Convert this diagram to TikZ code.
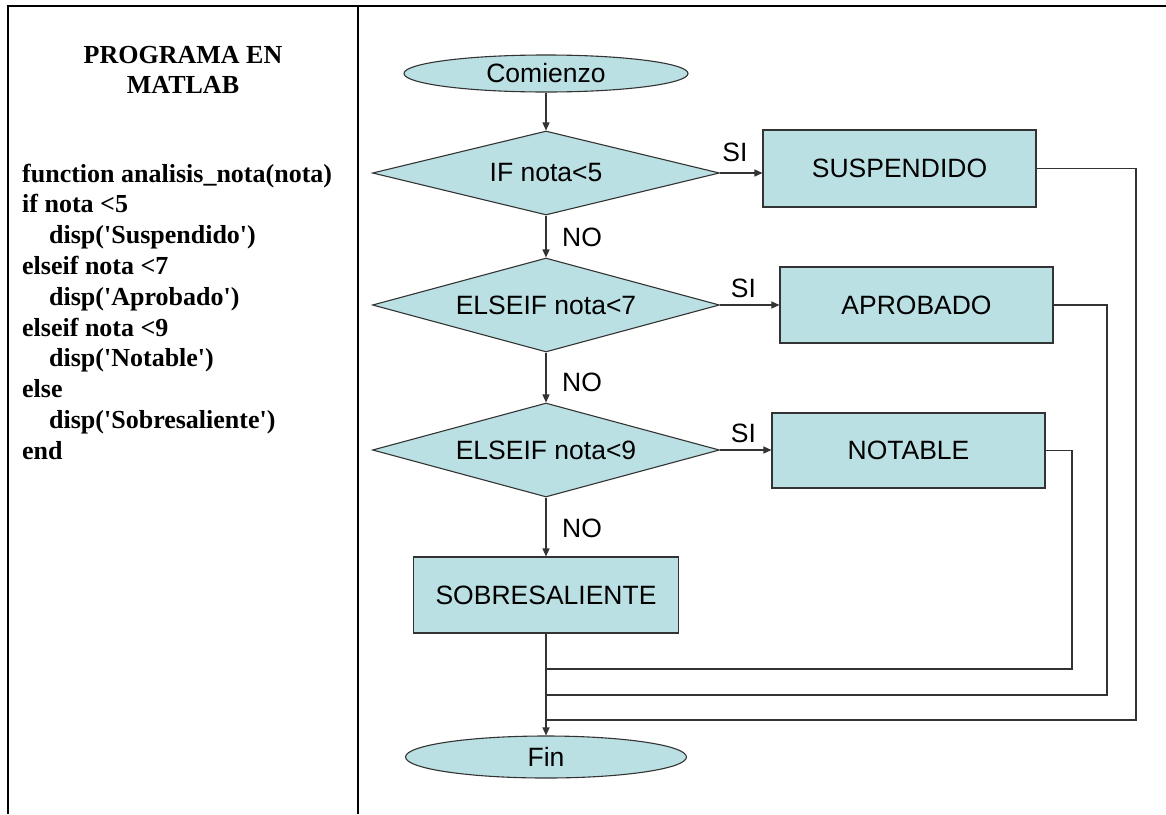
\documentclass[tikz,border=0pt]{standalone}
\usepackage{fontspec}
\newfontfamily\timesfont{Liberation Serif}
\newfontfamily\arialfont{Liberation Sans}
\usetikzlibrary{shapes.geometric,arrows.meta}
\definecolor{boxfill}{HTML}{BBE0E3}
\definecolor{edge}{HTML}{333333}

\begin{document}
\begin{tikzpicture}[x=1pt,y=-1pt,
  chart/.style={font=\arialfont\fontsize{26.5}{30}\selectfont, text=black},
  code/.style={font=\timesfont\bfseries\fontsize{26}{30}\selectfont, inner sep=0pt, anchor=base west},
  shapebase/.style={chart, draw=edge, fill=boxfill, line width=1.1pt, inner sep=0pt},
  terminal/.style={shapebase, ellipse},
  decision/.style={shapebase, diamond, aspect=3.7},
  process/.style={shapebase, rectangle},
  flow/.style={draw=edge, line width=1.3pt, -{Triangle[length=8pt,width=7pt]}},
  joinline/.style={draw=edge, line width=1.3pt},
  rule/.style={line width=2.5pt, black},
  lbl/.style={chart, inner sep=0pt}
]
\useasboundingbox (0,0) rectangle (1166,814);
\fill[white] (0,0) rectangle (1166,814);

% table rules
\draw[rule] (8,814) -- (8,6) -- (1166,6);
\draw[rule] (358,6) -- (358,814);

% left column: program listing
\node[code, anchor=base] (title1) at (183,63) {PROGRAMA EN};
\node[code, anchor=base] (title2) at (183,93) {MATLAB};
\node[code] (c1)  at (22,182)   {function analisis\_nota(nota)};
\node[code] (c2)  at (22,212.8) {if nota <5};
\node[code] (c3)  at (49,243.6) {disp('Suspendido')};
\node[code] (c4)  at (22,274.4) {elseif nota <7};
\node[code] (c5)  at (49,305.2) {disp('Aprobado')};
\node[code] (c6)  at (22,336)   {elseif nota <9};
\node[code] (c7)  at (49,366.8) {disp('Notable')};
\node[code] (c8)  at (22,397.6) {else};
\node[code] (c9)  at (49,428.4) {disp('Sobresaliente')};
\node[code] (c10) at (22,459.2) {end};

% flowchart nodes
\node[terminal, minimum width=284pt, minimum height=37pt] (start) at (546,73.5) {Comienzo};
\node[decision, minimum width=347pt, minimum height=84pt] (d1) at (546,173) {IF nota<5};
\node[decision, minimum width=347pt, minimum height=94pt] (d2) at (546,305) {ELSEIF nota<7};
\node[decision, minimum width=347pt, minimum height=94pt] (d3) at (546,450) {ELSEIF nota<9};
\node[process, minimum width=273pt, minimum height=77pt] (s1) at (899.5,168.5) {SUSPENDIDO};
\node[process, minimum width=273pt, minimum height=76pt] (s2) at (916.5,305) {APROBADO};
\node[process, minimum width=273pt, minimum height=75pt] (s3) at (908.5,450.5) {NOTABLE};
\node[process, minimum width=265pt, minimum height=76pt] (s4) at (546,595) {SOBRESALIENTE};
\node[terminal, minimum width=281pt, minimum height=42pt] (fin) at (546,757) {Fin};

% branch labels
\node[lbl] (si1) at (735,152) {SI};
\node[lbl] (si2) at (743.5,288) {SI};
\node[lbl] (si3) at (743.5,433) {SI};
\node[lbl] (no1) at (582,237) {NO};
\node[lbl] (no2) at (582,382) {NO};
\node[lbl] (no3) at (582,528) {NO};

% main flow
\draw[flow] (start.south) -- (d1.north);
\draw[flow] (d1.south) -- (d2.north);
\draw[flow] (d2.south) -- (d3.north);
\draw[flow] (d3.south) -- (s4.north);
\draw[flow] (s4.south) -- (fin.north);

% SI branches
\draw[flow] (d1.east) -- (d1.east -| s1.west);
\draw[flow] (d2.east) -- (d2.east -| s2.west);
\draw[flow] (d3.east) -- (d3.east -| s3.west);

% return paths into the main line
\coordinate (r1) at (1136,720);
\coordinate (r2) at (1107,695);
\coordinate (r3) at (1072,669);
\draw[joinline] (s1.east) -| (r1) -- (r1 -| s4.south);
\draw[joinline] (s2.east) -| (r2) -- (r2 -| s4.south);
\draw[joinline] (s3.east) -| (r3) -- (r3 -| s4.south);
\end{tikzpicture}
\end{document}
